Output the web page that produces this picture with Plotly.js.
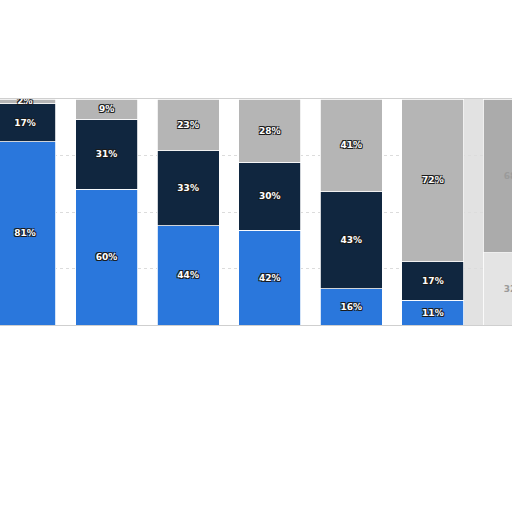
<!DOCTYPE html>
<html>
<head>
<meta charset="utf-8">
<script src="https://cdn.plot.ly/plotly-3.0.1.min.js"></script>
<style>
  html, body { margin: 0; padding: 0; background: #fff; }
  #chart { width: 512px; height: 512px; }
</style>
</head>
<body>
<div id="chart"></div>
<script>
"use strict";

// Bar positions (left bar is cut off, the last one fades out at the right edge).
const barIndex = [0, 1, 2, 3, 4, 5, 6];
const bluePct = [81, 60, 44, 42, 16, 11, 0];
const navyPct = [17, 31, 33, 30, 43, 17, 32];
const greyPct = [2, 9, 23, 28, 41, 72, 68];

const OUTLINE = "-1px -1px 0 #1a1a1a, 1px -1px 0 #1a1a1a, -1px 1px 0 #1a1a1a, 1px 1px 0 #1a1a1a";
const fadedIdx = barIndex.length - 1;

// Last bar is washed out, so swap its colours for pale greys.
function colorsFor(base, faded) {
  return barIndex.map((i) => (i === fadedIdx ? faded : base));
}

function labels(vals) {
  return vals.map((v) => (v > 0 ? v + "%" : ""));
}

function series(name, vals, color, fadedColor) {
  return {
    type: "bar",
    name,
    x: barIndex,
    y: vals,
    width: 0.76,
    marker: { color: colorsFor(color, fadedColor), line: { color: "#ffffff", width: 0.8 } },
    text: labels(vals),
    textposition: "inside",
    insidetextanchor: "middle",
    constraintext: "none",
    textangle: 0,
    textfont: {
      family: "DejaVu Sans, Verdana, sans-serif",
      size: 9,
      weight: "bold",
      color: colorsFor("#ffffff", "#9a9a9a"),
      shadow: colorsFor(OUTLINE, "none"),
    },
    hoverinfo: "skip",
  };
}

const traces = [
  series("blue", bluePct, "#2a77dc", "#e6e6e6"),
  series("navy", navyPct, "#10263f", "#e4e4e4"),
  series("grey", greyPct, "#b5b5b5", "#ababab"),
];

const layout = {
  barmode: "stack",
  width: 512,
  height: 512,
  paper_bgcolor: "#ffffff",
  plot_bgcolor: "#ffffff",
  showlegend: false,
  margin: { t: 99, b: 187, l: 0, r: 0, pad: 0 },
  xaxis: {
    range: [-0.306, 5.97],
    showticklabels: false,
    showgrid: false,
    zeroline: false,
    showline: true,
    mirror: true,
    linecolor: "#cfcfcf",
    linewidth: 1,
    fixedrange: true,
  },
  yaxis: {
    range: [0, 100],
    tickvals: [25, 50, 75],
    showticklabels: false,
    gridcolor: "#dcdcdc",
    griddash: "dot",
    gridwidth: 1,
    zeroline: false,
    showline: false,
    fixedrange: true,
  },
  shapes: [
    // washed-out strip behind the partly visible last bar
    {
      type: "rect",
      layer: "below",
      xref: "x",
      yref: "paper",
      x0: fadedIdx - 0.63,
      x1: fadedIdx + 0.6,
      y0: 0,
      y1: 1,
      fillcolor: "#e2e2e2",
      line: { width: 0 },
    },
  ],
};

Plotly.newPlot("chart", traces, layout, { staticPlot: true, displayModeBar: false });
</script>
</body>
</html>
